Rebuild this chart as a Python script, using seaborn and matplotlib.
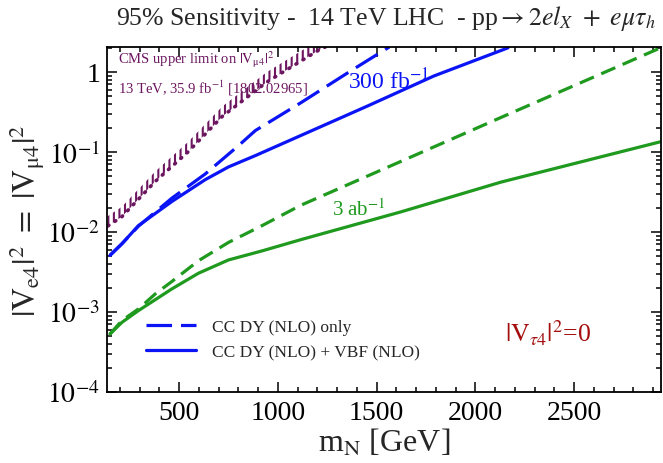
import numpy as np
import pandas as pd
import matplotlib
matplotlib.use("Agg")
import matplotlib.pyplot as plt
import seaborn as sns
from matplotlib.ticker import FixedLocator, FuncFormatter, MultipleLocator, LogLocator, NullFormatter
from matplotlib.lines import Line2D

# ---- data ----
mass_dy_300 = [150, 210, 294, 463, 632, 801, 886, 1115, 1369, 1564]
v_dy_300 = [5.1e-3, 7.1e-3, 0.0118, 0.0264, 0.053, 0.12, 0.185, 0.41, 1.03, 2.05]

mass_all_300 = [150, 210, 294, 463, 632, 750, 886, 1115, 1455, 1790, 2165]
v_all_300 = [5.1e-3, 7.1e-3, 0.012, 0.024, 0.045, 0.065, 0.09, 0.16, 0.376, 0.89, 2.0]

mass_dy_3000 = [150, 210, 294, 379, 463, 598, 750, 920, 1115, 1622, 2130, 2638, 2927]
v_dy_3000 = [5.3e-4, 7.8e-4, 1.09e-3, 1.68e-3, 2.4e-3, 4.37e-3, 7.4e-3, 0.012, 0.0215, 0.076, 0.27, 0.95, 1.95]

mass_all_3000 = [150, 210, 294, 463, 598, 750, 920, 1115, 1622, 2130, 2942]
v_all_3000 = [5.3e-4, 7.4e-4, 1.04e-3, 1.94e-3, 3.05e-3, 4.47e-3, 5.8e-3, 8.0e-3, 0.0178, 0.042, 0.135]

mass_cms = [140, 210, 380, 545, 720, 945, 1200, 1280]
v_cms = [0.0119, 0.0155, 0.043, 0.10, 0.28, 0.75, 1.83, 2.3]

x_ticks = [500, 1000, 1500, 2000, 2500]
y_ticks = [1e-4, 1e-3, 1e-2, 1e-1, 1]
legend_labels = ["CC DY (NLO) only", "CC DY (NLO) + VBF (NLO)"]

# ---- style ----
sns.set_style("ticks")
plt.rcParams["font.family"] = ["Liberation Serif", "DejaVu Serif"]
plt.rcParams["mathtext.fontset"] = "stix"
plt.rcParams["hatch.linewidth"] = 1.5

BLUE = "#0a14f5"
GREEN = "#1f9a1f"
PURPLE = "#6c1660"
DRED = "#a30d0d"

fig = plt.figure(figsize=(6.63, 4.64), dpi=100)
ax = fig.add_axes([107/663, 1-393/464, 554/663, 345/464])

lw = 2.3
sns.lineplot(x=mass_dy_300, y=v_dy_300, ax=ax, color=BLUE, linewidth=lw,
             linestyle=(0, (8.0, 2.8)), legend=False)
sns.lineplot(x=mass_all_300, y=v_all_300, ax=ax, color=BLUE, linewidth=lw, legend=False)
sns.lineplot(x=mass_dy_3000, y=v_dy_3000, ax=ax, color=GREEN, linewidth=lw,
             linestyle=(0, (4.8, 2.5)), legend=False)
sns.lineplot(x=mass_all_3000, y=v_all_3000, ax=ax, color=GREEN, linewidth=lw, legend=False)

# CMS hatched exclusion band
cms_m = np.array(mass_cms, dtype=float)
cms_v = np.array(v_cms, dtype=float)
ax.fill_between(cms_m, cms_v, cms_v * 1.33, facecolor="none", edgecolor=PURPLE,
                hatch="|||", linewidth=0)
sns.lineplot(x=mass_cms, y=v_cms, ax=ax, color=PURPLE, linewidth=2.6,
             linestyle=(0, (0.3, 2.0)), legend=False, dash_capstyle="round")

ax.set_yscale("log")
ax.set_xlim(135, 2940)
ax.set_ylim(1e-4, 2.05)

ax.xaxis.set_major_locator(FixedLocator(x_ticks))
ax.xaxis.set_minor_locator(MultipleLocator(100))
ax.yaxis.set_major_locator(FixedLocator(y_ticks))
ax.yaxis.set_minor_locator(LogLocator(base=10, subs=np.arange(2, 10)))
ax.yaxis.set_minor_formatter(NullFormatter())

def yfmt(v, pos):
    if abs(v - 1) < 1e-9:
        return "1"
    return r"$10^{%d}$" % int(round(np.log10(v)))
ax.yaxis.set_major_formatter(FuncFormatter(yfmt))

ax.tick_params(which="both", direction="in", top=True, right=True, width=1.1,
               colors="black", labelsize=20)
ax.tick_params(which="major", length=7)
ax.tick_params(which="minor", length=3.5)
ax.tick_params(axis="x", pad=6)
ax.tick_params(axis="y", pad=5)
for s in ax.spines.values():
    s.set_linewidth(1.3)
    s.set_color("black")

ax.set_xlabel(r"m$_\mathrm{N}$ [GeV]", fontsize=23, labelpad=1)
ax.set_ylabel(r"$|\mathrm{V}_{\mathrm{e}4}|^2\ =\ |\mathrm{V}_{\mathrm{μ}4}|^2$", fontsize=23)
ax.yaxis.set_label_coords(-0.108, 0.5)

fig.text(0.582, 0.961,
         r"95% Sensitivity -  14 TeV LHC  - pp$\rightarrow 2el_X\ +\ e\mu\tau_h$",
         fontsize=18.5, ha="center", va="center")

# annotations
ax.text(0.02, 0.965, r"CMS upper limit on $|\mathrm{V}_{\mathrm{μ}4}|^2$", transform=ax.transAxes,
        color=PURPLE, fontsize=10.5, ha="left", va="center")
ax.text(0.02, 0.883, r"13 TeV, 35.9 fb$^{\mathrm{-1}}$ [1802.02965]", transform=ax.transAxes,
        color=PURPLE, fontsize=10.5, ha="left", va="center")
ax.text((348-107)/554, (393-82)/345, r"300 fb$^{\mathrm{-1}}$", transform=ax.transAxes,
        color=BLUE, fontsize=17, ha="left", va="center")
ax.text((332-107)/554, (393-210)/345, r"3 ab$^{\mathrm{-1}}$", transform=ax.transAxes,
        color=GREEN, fontsize=15, ha="left", va="center")
ax.text((505-107)/554, (393-333)/345, r"$|\mathrm{V}_{\tau 4}|^2$=0", transform=ax.transAxes,
        color=DRED, fontsize=18.5, ha="left", va="center")

handles = [Line2D([], [], color=BLUE, linewidth=lw, linestyle=(0, (8.0, 2.8))),
           Line2D([], [], color=BLUE, linewidth=lw)]
ax.legend(handles, legend_labels, loc="center left",
          bbox_to_anchor=((146-107)/554, (393-340.5)/345), frameon=False,
          fontsize=12.5, handlelength=2.9, handletextpad=0.9, labelspacing=0.55,
          borderaxespad=0, borderpad=0)

fig.savefig("out.png", dpi=100)
